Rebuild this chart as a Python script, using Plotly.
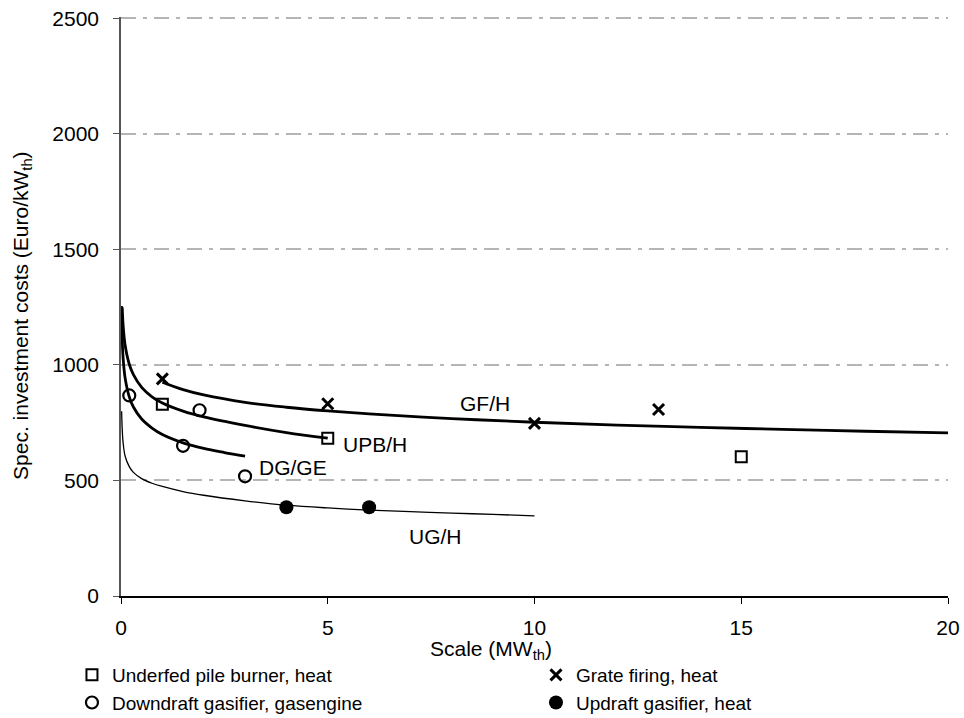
import plotly.graph_objects as go

# Observed data points (scale in MW_th, spec. investment costs in Euro/kW_th)
upb_x = [1, 5, 15]
upb_y = [830, 683, 603]
gf_x = [1, 5, 10, 13]
gf_y = [940, 832, 747, 807]
dg_x = [0.2, 1.9, 1.5, 3]
dg_y = [868, 804, 650, 518]
ug_x = [4, 6]
ug_y = [384, 384]

# Trend curves
gf_curve_x = [1, 1.5, 2, 3, 4, 5, 6, 8, 10, 12, 14, 16, 18, 20]
gf_curve_y = [925, 893, 870, 838, 817, 801, 788, 768, 752, 740, 730, 721, 713, 706]
upb_curve_x = [0.03, 0.05, 0.1, 0.2, 0.3, 0.5, 0.75, 1, 1.5, 2, 3, 4, 5]
upb_curve_y = [1250, 1175, 1085, 1003, 958, 903, 862, 835, 800, 775, 738, 707, 683]
dg_curve_x = [0.01, 0.02, 0.05, 0.1, 0.2, 0.3, 0.5, 0.75, 1, 1.5, 2, 2.5, 3]
dg_curve_y = [1255, 1160, 1033, 943, 862, 818, 766, 727, 699, 663, 639, 621, 605]
ug_curve_x = [0.015, 0.03, 0.05, 0.1, 0.2, 0.3, 0.5, 0.75, 1, 1.5, 2, 3, 4, 5, 6, 7, 8, 9, 10]
ug_curve_y = [800, 720, 665, 605, 560, 535, 508, 488, 474, 452, 436, 412, 393, 381, 372, 365, 359, 353, 347]

# Curve labels
label_text = ["GF/H", "UPB/H", "DG/GE", "UG/H"]
label_x = [8.8, 6.15, 4.15, 7.6]
label_y = [835, 655, 558, 258]

FONT = "Liberation Sans, Arial, sans-serif"
FS = 21

fig = go.Figure()

# Trend lines (no legend entries)
for cx, cy, w in [
    (gf_curve_x, gf_curve_y, 2.8),
    (upb_curve_x, upb_curve_y, 2.8),
    (dg_curve_x, dg_curve_y, 2.8),
    (ug_curve_x, ug_curve_y, 1.3),
]:
    fig.add_trace(go.Scatter(
        x=cx, y=cy, mode="lines", showlegend=False, hoverinfo="skip",
        line=dict(color="black", width=w, shape="spline"),
    ))

# Marker series, split over two legends (two columns below the chart)
fig.add_trace(go.Scatter(
    x=upb_x, y=upb_y, mode="markers", name="Underfed pile burner, heat",
    legend="legend",
    marker=dict(symbol="square-open", size=11, color="black", line=dict(width=2)),
))
fig.add_trace(go.Scatter(
    x=gf_x, y=gf_y, mode="markers", name="Grate firing, heat",
    legend="legend2",
    marker=dict(symbol="x-thin-open", size=11, color="black", line=dict(width=3, color="black")),
))
fig.add_trace(go.Scatter(
    x=dg_x, y=dg_y, mode="markers", name="Downdraft gasifier, gasengine",
    legend="legend",
    marker=dict(symbol="circle-open", size=12, color="black", line=dict(width=2.2)),
))
fig.add_trace(go.Scatter(
    x=ug_x, y=ug_y, mode="markers", name="Updraft gasifier, heat",
    legend="legend2",
    marker=dict(symbol="circle", size=14, color="black"),
))

for t, lx, ly in zip(label_text, label_x, label_y):
    fig.add_annotation(x=lx, y=ly, text=t, showarrow=False,
                       font=dict(family=FONT, size=FS, color="black"))

# axis titles placed like the original
fig.add_annotation(x=0.447, y=-0.093, xref="paper", yref="paper",
                   xanchor="center", yanchor="middle",
                   text="Scale (MW<sub>th</sub>)", showarrow=False,
                   font=dict(family=FONT, size=FS, color="black"))
fig.add_annotation(x=-0.12, y=0.485, xref="paper", yref="paper", textangle=-90,
                   xanchor="center", yanchor="middle",
                   text="Spec. investment costs (Euro/kW<sub>th</sub>)", showarrow=False,
                   font=dict(family=FONT, size=FS, color="black"))

legend_style = dict(
    orientation="v", xref="paper", yref="container",
    xanchor="left", yanchor="top", y=0.0864,
    font=dict(family=FONT, size=19), itemwidth=30, tracegroupgap=0,
    bgcolor="rgba(0,0,0,0)",
)

fig.update_layout(
    width=964, height=718,
    margin=dict(l=121, r=16, t=17, b=122),
    plot_bgcolor="white", paper_bgcolor="white",
    font=dict(family=FONT, size=FS, color="black"),
    showlegend=True,
    legend=dict(legend_style, x=-0.0593),
    legend2=dict(legend_style, x=0.5018),
)
fig.update_xaxes(
    range=[0, 20], tickvals=[0, 5, 10, 15, 20], showgrid=False, zeroline=False,
    showline=True, linecolor="black", linewidth=1.5, automargin=False,
    ticks="outside", ticklen=6, tickcolor="black", ticklabelstandoff=6,
    ticklabeloverflow="allow", tickfont=dict(family=FONT, size=FS),
)
# range slightly above 2500 so the top grid line is still drawn
fig.update_yaxes(
    range=[0, 2506], tickvals=[0, 500, 1000, 1500, 2000, 2500], zeroline=False,
    showline=True, linecolor="#555555", linewidth=1.5, automargin=False,
    ticks="outside", ticklen=6, tickcolor="#555555", ticklabelstandoff=10,
    showgrid=True, gridcolor="#b5b5b5", gridwidth=2, griddash="15px,7px,4px,7px",
    ticklabeloverflow="allow", tickfont=dict(family=FONT, size=FS),
)

# remove the default body margin so the figure sits at the page corner
fig.write_html("out.html", config={"displayModeBar": False},
               post_script="document.body.style.margin = '0px';")
